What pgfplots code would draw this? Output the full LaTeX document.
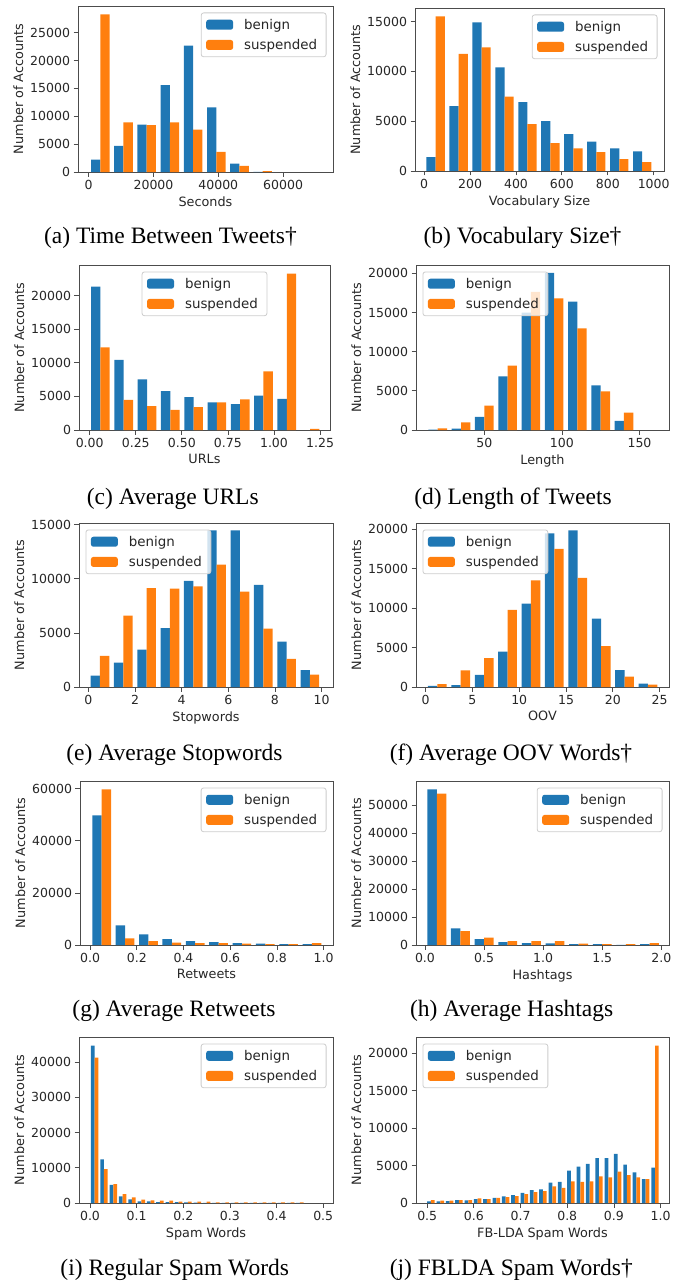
\documentclass[border=0pt]{standalone}
\usepackage{pgfplots}
\pgfplotsset{compat=1.18}
\usepackage{fontspec}
\setmainfont{DejaVu Sans}
\newfontfamily\capfont{Liberation Serif}
\definecolor{mblue}{HTML}{1F77B4}
\definecolor{morange}{HTML}{FF7F0E}
\pgfplotsset{
  hist/.style={
    scale only axis, anchor=north west, ymin=0,
    axis line style={black!70, line width=0.8pt},
    every tick/.style={black!70, line width=0.8pt},
    major tick length=4.5pt, tick align=outside, tick pos=left,
    ticklabel style={font=\fontsize{12.5}{14}\selectfont, text=black!85},
    label style={font=\fontsize{12.8}{14}\selectfont, text=black!85},
    /pgf/number format/assume math mode=true,
    /pgf/number format/1000 sep={},
    scaled ticks=false,
    ylabel={Number of Accounts},
    ybar, bar shift=0pt,
    legend cell align=left,
    legend style={draw=black!20, line width=0.8pt, rounded corners=2.5pt, fill=white, fill opacity=0.8, text opacity=1,
      font=\fontsize{13.4}{15}\selectfont, text=black!85, inner xsep=5pt, inner ysep=4pt, row sep=4.5pt,
      nodes={inner xsep=4pt, inner ysep=2pt}, /tikz/every odd column/.style={column sep=7pt}},
  },
  legimg/.style={legend image code/.code={\fill[##1, fill opacity=1] (0pt,-5pt) rectangle (27pt,5pt);}},
  legNE/.style={legend style={at={(1,1)}, anchor=north east, xshift=-6.5pt, yshift=-6.5pt}},
  legNW/.style={legend style={at={(0,1)}, anchor=north west, xshift=6.5pt, yshift=-6.5pt}},
  legN/.style={legend style={at={(0.5,1)}, anchor=north, yshift=-6.5pt}},
}
\begin{document}
\begin{tikzpicture}
\useasboundingbox (0pt,0pt) rectangle (683pt,-1284pt);
% (a)
\begin{axis}[hist, legNE, legimg, at={(78pt,-6pt)}, width=255pt, height=166pt,
  xmin=-3300, xmax=75400, ymax=29800, xtick={0,20000,40000,60000}, ytick={0,5000,10000,15000,20000,25000},
  xlabel={Seconds}, bar width=2864]
\addplot[fill=mblue,draw=none,legimg] coordinates {(2148,2200)(9308,4700)(16468,8500)(23628,15600)(30788,22700)(37948,11600)(45108,1500)(52268,40)};
\addplot[fill=morange,draw=none,legimg] coordinates {(5012,28300)(12172,8900)(19332,8400)(26492,8900)(33652,7600)(40812,3600)(47972,1100)(55132,150)};
\legend{benign,suspended}
\end{axis}
% (b)
\begin{axis}[hist, legNE, legimg, at={(415pt,-8pt)}, width=249pt, height=163pt,
  xmin=-40, xmax=1045, ymax=16350, xtick={0,200,400,600,800,1000}, ytick={0,5000,10000,15000},
  xlabel={Vocabulary Size}, bar width=40]
\addplot[fill=mblue,draw=none,legimg] coordinates {(30,1400)(130,6500)(230,14900)(330,10400)(430,6900)(530,5000)(630,3700)(730,2950)(830,2280)(930,1980)};
\addplot[fill=morange,draw=none,legimg] coordinates {(70,15500)(170,11750)(270,12400)(370,7450)(470,4700)(570,2800)(670,2280)(770,1900)(870,1200)(970,900)};
\legend{benign,suspended}
\end{axis}
% (c)
\begin{axis}[hist, legN, legimg, at={(79pt,-265pt)}, width=251pt, height=165pt,
  xmin=-0.058, xmax=1.304, ymax=24560, xtick={0,0.25,0.5,0.75,1,1.25}, xticklabels={0.00,0.25,0.50,0.75,1.00,1.25},
  ytick={0,5000,10000,15000,20000}, xlabel={URLs}, bar width=0.0506]
\addplot[fill=mblue,draw=none,legimg] coordinates {(0.0329,21340)(0.1593,10420)(0.2857,7540)(0.4121,5800)(0.5385,4910)(0.6649,4120)(0.7913,3870)(0.9177,5110)(1.0441,4620)};
\addplot[fill=morange,draw=none,legimg] coordinates {(0.0835,12310)(0.2099,4470)(0.3363,3570)(0.4627,2980)(0.5891,3420)(0.7155,4120)(0.8419,4570)(0.9683,8740)(1.0947,23280)(1.2211,150)};
\legend{benign,suspended}
\end{axis}
% (d)
\begin{axis}[hist, legNW, legimg, at={(416pt,-265pt)}, width=253pt, height=165pt,
  xmin=6, xmax=169, ymax=21060, xtick={50,100,150}, ytick={0,5000,10000,15000,20000},
  xlabel={Length}, bar width=6]
\addplot[fill=mblue,draw=none,legimg] coordinates {(17,50)(32,170)(47,1660)(62,6850)(77,14980)(92,20040)(107,16380)(122,5700)(137,1150)};
\addplot[fill=morange,draw=none,legimg] coordinates {(23,210)(38,980)(53,3100)(68,8210)(83,17620)(98,16810)(113,12980)(128,4940)(143,2210)};
\legend{benign,suspended}
\end{axis}
% (e)
\begin{axis}[hist, legNW, legimg, at={(79pt,-523pt)}, width=254pt, height=164pt,
  xmin=-0.4, xmax=10.49, ymax=15160, xtick={0,2,4,6,8,10}, ytick={0,5000,10000,15000},
  xlabel={Stopwords}, bar width=0.4]
\addplot[fill=mblue,draw=none,legimg] coordinates {(0.3,1050)(1.3,2250)(2.3,3450)(3.3,5450)(4.3,9800)(5.3,14480)(6.3,14480)(7.3,9430)(8.3,4190)(9.3,1570)};
\addplot[fill=morange,draw=none,legimg] coordinates {(0.7,2870)(1.7,6590)(2.7,9150)(3.7,9090)(4.7,9300)(5.7,11310)(6.7,8810)(7.7,5390)(8.7,2590)(9.7,1140)};
\legend{benign,suspended}
\end{axis}
% (f)
\begin{axis}[hist, legNW, legimg, at={(416pt,-523pt)}, width=253pt, height=164pt,
  xmin=-1.03, xmax=26, ymax=20760, xtick={0,5,10,15,20,25}, ytick={0,5000,10000,15000,20000},
  xlabel={OOV}, bar width=1]
\addplot[fill=mblue,draw=none,legimg] coordinates {(0.75,130)(3.25,250)(5.75,1520)(8.25,4470)(10.75,10550)(13.25,19450)(15.75,19830)(18.25,8650)(20.75,2150)(23.25,420)};
\addplot[fill=morange,draw=none,legimg] coordinates {(1.75,380)(4.25,2110)(6.75,3670)(9.25,9750)(11.75,13500)(14.25,17470)(16.75,13800)(19.25,5190)(21.75,1310)(24.25,300)};
\legend{benign,suspended}
\end{axis}
% (g)
\begin{axis}[hist, legNE, legimg, at={(80pt,-781pt)}, width=253pt, height=164pt,
  xmin=-0.043, xmax=1.04, ymax=62960, xtick={0,0.2,0.4,0.6,0.8,1}, xticklabels={0.0,0.2,0.4,0.6,0.8,1.0},
  ytick={0,20000,40000,60000}, xlabel={Retweets}, bar width=0.04]
\addplot[fill=mblue,draw=none,legimg] coordinates {(0.03,49810)(0.13,7535)(0.23,4090)(0.33,2300)(0.43,1530)(0.53,1150)(0.63,770)(0.73,510)(0.83,380)(0.93,380)};
\addplot[fill=morange,draw=none,legimg] coordinates {(0.07,59770)(0.17,2550)(0.27,1530)(0.37,890)(0.47,770)(0.57,770)(0.67,510)(0.77,380)(0.87,380)(0.97,770)};
\legend{benign,suspended}
\end{axis}
% (h)
\begin{axis}[hist, legNE, legimg, at={(416pt,-781pt)}, width=253pt, height=164pt,
  xmin=-0.076, xmax=2.065, ymax=58620, xtick={0,0.5,1,1.5,2}, xticklabels={0.0,0.5,1.0,1.5,2.0},
  ytick={0,10000,20000,30000,40000,50000}, xlabel={Hashtags}, bar width=0.08]
\addplot[fill=mblue,draw=none,legimg] coordinates {(0.06,55650)(0.26,5950)(0.46,2140)(0.66,1070)(0.86,710)(1.06,590)(1.26,360)(1.46,360)(1.66,60)(1.86,360)};
\addplot[fill=morange,draw=none,legimg] coordinates {(0.14,54100)(0.34,4990)(0.54,2620)(0.74,1430)(0.94,1430)(1.14,1430)(1.34,480)(1.54,360)(1.74,360)(1.94,710)};
\legend{benign,suspended}
\end{axis}
% (i)
\begin{axis}[hist, legNE, legimg, at={(79pt,-1037pt)}, width=254pt, height=166pt,
  xmin=-0.0236, xmax=0.521, ymax=47110, xtick={0,0.1,0.2,0.3,0.4,0.5}, xticklabels={0.0,0.1,0.2,0.3,0.4,0.5},
  ytick={0,10000,20000,30000,40000}, xlabel={Spam Words}, bar width=0.008]
\addplot[fill=mblue,draw=none,legimg] coordinates {(0.006,44640)(0.026,12350)(0.046,5150)(0.066,1890)(0.086,1040)(0.106,470)(0.126,470)(0.146,280)(0.166,280)(0.186,280)(0.206,190)(0.226,90)(0.246,70)(0.266,50)(0.286,40)(0.306,30)(0.326,30)(0.346,20)(0.366,20)(0.386,20)(0.406,10)(0.426,10)(0.446,10)};
\addplot[fill=morange,draw=none,legimg] coordinates {(0.014,41230)(0.034,9600)(0.054,5340)(0.074,2550)(0.094,1600)(0.114,940)(0.134,750)(0.154,660)(0.174,660)(0.194,380)(0.214,380)(0.234,380)(0.254,380)(0.274,190)(0.294,190)(0.314,190)(0.334,190)(0.354,190)(0.374,190)(0.394,190)(0.414,190)(0.434,190)(0.454,190)};
\legend{benign,suspended}
\end{axis}
% (j)
\begin{axis}[hist, legNW, legimg, at={(416pt,-1037pt)}, width=253pt, height=166pt,
  xmin=0.476, xmax=1.018, ymax=22190, xtick={0.5,0.6,0.7,0.8,0.9,1}, xticklabels={0.5,0.6,0.7,0.8,0.9,1.0},
  ytick={0,5000,10000,15000,20000}, xlabel={FB-LDA Spam Words}, bar width=0.008]
\addplot[fill=mblue,draw=none,legimg] coordinates {(0.504,220)(0.524,220)(0.544,260)(0.564,400)(0.584,350)(0.604,530)(0.624,530)(0.644,700)(0.664,880)(0.684,1050)(0.704,1360)(0.724,1710)(0.744,1840)(0.764,2720)(0.784,2810)(0.804,4340)(0.824,4870)(0.844,5220)(0.864,6010)(0.884,6010)(0.904,6580)(0.924,5130)(0.944,4080)(0.964,3200)(0.984,4740)};
\addplot[fill=morange,draw=none,legimg] coordinates {(0.512,400)(0.532,310)(0.552,310)(0.572,400)(0.592,400)(0.612,610)(0.632,530)(0.652,700)(0.672,790)(0.692,920)(0.712,1190)(0.732,1450)(0.752,1580)(0.772,2240)(0.792,2020)(0.812,2900)(0.832,2810)(0.852,2900)(0.872,3560)(0.892,3420)(0.912,4210)(0.932,3730)(0.952,3420)(0.972,3200)(0.992,21030)};
\legend{benign,suspended}
\end{axis}
% captions
\begin{scope}[every node/.style={font=\capfont\fontsize{23.5}{26}\selectfont, anchor=base, inner sep=0pt}]
\node at (170.5pt,-243pt) {(a) Time Between Tweets†};
\node at (522.5pt,-243pt) {(b) Vocabulary Size†};
\node at (172.8pt,-504pt) {(c) Average URLs};
\node at (513pt,-504pt) {(d) Length of Tweets};
\node at (174.5pt,-760pt) {(e) Average Stopwords};
\node at (511pt,-760pt) {(f) Average OOV Words†};
\node at (174pt,-1016pt) {(g) Average Retweets};
\node at (511.7pt,-1016pt) {(h) Average Hashtags};
\node at (174.7pt,-1275pt) {(i) Regular Spam Words};
\node at (511.3pt,-1275pt) {(j) FBLDA Spam Words†};
\end{scope}
\end{tikzpicture}
\end{document}
